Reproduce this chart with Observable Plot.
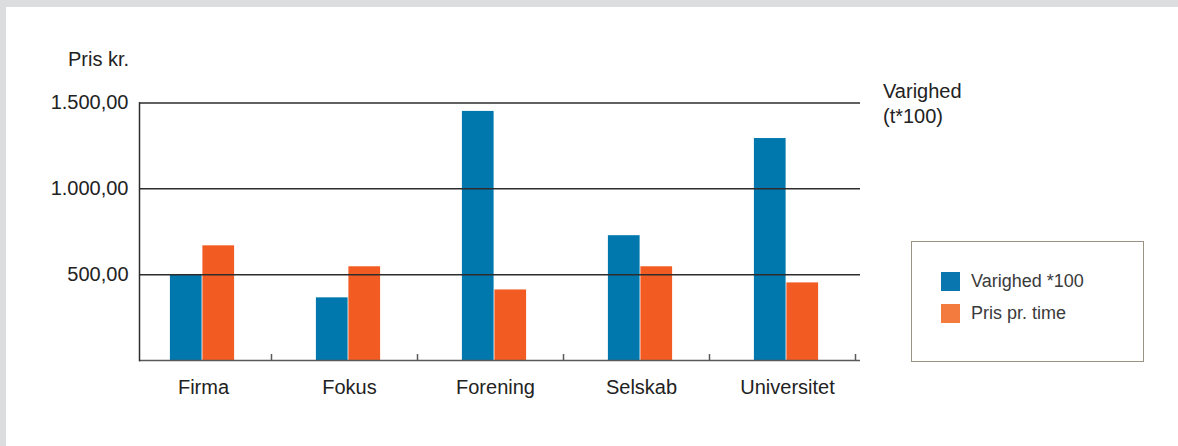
<!DOCTYPE html>
<html lang="da">
<head>
<meta charset="utf-8">
<script src="https://cdn.jsdelivr.net/npm/d3@7"></script>
<script src="https://cdn.jsdelivr.net/npm/@observablehq/plot@0.6"></script>
<style>
  html, body { margin: 0; padding: 0; }
  body { width: 1178px; height: 446px; background: #dcdddf; position: relative; overflow: hidden;
         font-family: "Liberation Sans", Arial, Helvetica, sans-serif; color: #222; }
  #panel { position: absolute; left: 6px; top: 7px; right: 0; bottom: 0; background: #fff; }
  #chart { position: absolute; left: 0; top: 0; }
  .lbl { position: absolute; font-size: 20px; line-height: 24.5px; white-space: nowrap; color: #222; }
  #legend { position: absolute; left: 911px; top: 241px; width: 231px; height: 119px;
            border: 1px solid #9c9283; background: #fff; }
  .item { position: absolute; left: 29px; height: 19px; font-size: 18px; line-height: 19px; color: #3a3a3a; white-space: nowrap; }
  .sw { display: inline-block; width: 19px; height: 19px; vertical-align: top; margin-right: 11px; }
</style>
</head>
<body>
<div id="panel"></div>
<div id="chart"></div>
<div class="lbl" style="left:68px; top:49px; line-height:20px;">Pris kr.</div>
<div class="lbl" style="left:883px; top:79px;">Varighed<br>(t*100)</div>
<div id="legend"></div>
<script>
// Kategorier og serier
const categories = ["Firma", "Fokus", "Forening", "Selskab", "Universitet"];
const varighed = [500, 365, 1451, 727, 1293];   // Varighed *100
const prisPrTime = [668, 546, 411, 546, 452];    // Pris pr. time
const yTicks = [500, 1000, 1500];
const seriesNames = ["Varighed *100", "Pris pr. time"];
const seriesColors = ["#0077ad", "#f25c23"];
const legendColors = ["#0a76b0", "#f37b3e"];

const rows = categories.map((c, i) => ({category: c, varighed: varighed[i], pris: prisPrTime[i]}));

const da = d3.formatLocale({decimal: ",", thousands: ".", grouping: [3], currency: ["", " kr."]});
const fmt = da.format(",.2f");

const W = 1178, H = 446;
const mLeft = 139, mRight = 318, mTop = 102.5, mBottom = 86;
const step = 146.8, barW = 32.5, xStart = 127;
const outer = (step - 2 * barW) / 2;
const frameH = H - mTop - mBottom;

const chart = Plot.plot({
  width: W,
  height: H,
  marginLeft: mLeft,
  marginRight: mRight,
  marginTop: mTop,
  marginBottom: mBottom,
  style: {background: "transparent", fontFamily: "Liberation Sans, Arial, Helvetica, sans-serif", color: "#222"},
  x: {type: "band", domain: categories, range: [xStart, xStart + step * categories.length], padding: 0},
  y: {domain: [0, 1500], label: null},
  marks: [
    Plot.barY(rows, {x: "category", y: "varighed", fill: seriesColors[0], insetLeft: outer, insetRight: outer + barW}),
    Plot.barY(rows, {x: "category", y: "pris", fill: seriesColors[1], insetLeft: outer + barW, insetRight: outer}),
    Plot.ruleY(yTicks, {stroke: "#2d2d2d", strokeWidth: 1.5}),
    Plot.ruleY([0], {stroke: "#5a5a5a", strokeWidth: 1.6}),
    Plot.frame({anchor: "left", stroke: "#2d2d2d", strokeWidth: 1.5}),
    Plot.tickX(categories, {x: d => d, dx: 69, stroke: "#5a5a5a", strokeWidth: 1.5, insetTop: frameH - 6}),
    Plot.axisY({ticks: yTicks, tickSize: 0, tickPadding: 11, tickFormat: fmt, fontSize: 20, label: null, fill: "#222"}),
    Plot.axisX({tickSize: 0, tickPadding: 19, fontSize: 20, label: null, fill: "#222", dx: 1})
  ]
});
document.getElementById("chart").appendChild(chart);

// Forklaring
const legend = document.getElementById("legend");
seriesNames.forEach((name, i) => {
  const item = document.createElement("div");
  item.className = "item";
  item.style.top = (30 + i * 32) + "px";
  const sw = document.createElement("span");
  sw.className = "sw";
  sw.style.background = legendColors[i];
  item.appendChild(sw);
  item.appendChild(document.createTextNode(name));
  legend.appendChild(item);
});
</script>
</body>
</html>
